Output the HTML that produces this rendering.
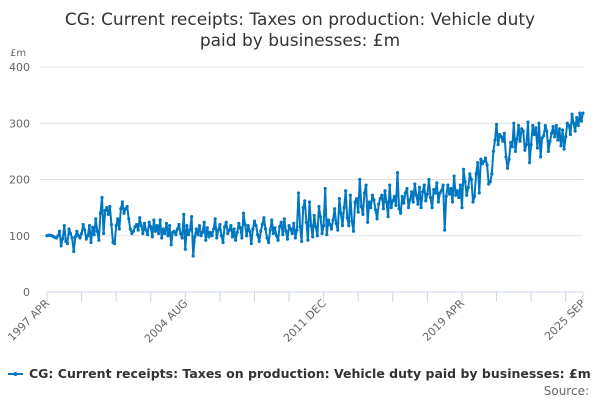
<!DOCTYPE html>
<html><head><meta charset="utf-8"><style>
body{margin:0;width:600px;height:400px;background:#fff;overflow:hidden;font-family:"DejaVu Sans","Liberation Sans",sans-serif}
</style></head><body>
<svg id="chart" width="600" height="400">
<text x="300" y="25" text-anchor="middle" font-size="17" fill="#333"><tspan x="300">CG: Current receipts: Taxes on production: Vehicle duty</tspan><tspan x="300" dy="21">paid by businesses: £m</tspan></text>
<text x="10" y="56" font-size="10" fill="#666">£m</text>
<g id="grid"></g><g id="xaxis"></g><g id="series"></g>
<g>
<line x1="8" y1="374" x2="23" y2="374" stroke="#0077c0" stroke-width="2"/>
<circle cx="15.5" cy="374" r="2" fill="#0077c0"/>
<text x="29" y="378" font-size="12.5" font-weight="bold" fill="#333">CG: Current receipts: Taxes on production: Vehicle duty paid by businesses: £m</text>
</g>
<text x="589" y="395" text-anchor="end" font-size="12" fill="#666">Source:</text>
</svg>
<script>
const yTicks=[0,100,200,300,400];
const xTickLabels=["1997 APR","2004 AUG","2011 DEC","2019 APR","2025 SEP"];
const xTickIdx=[0,88,176,264,341];
const values=[100,101,101,100,99,97,96,100,108,
82,95,118,90,86,112,104,96,72,98,108,100,
96,104,120,110,94,100,118,88,115,102,130,108,
92,140,168,104,145,150,138,152,120,88,86,118,
130,112,148,160,140,148,152,130,112,104,108,116,
120,110,132,118,104,122,110,102,124,116,98,128,
108,118,104,128,96,112,104,122,100,118,84,106,
108,102,112,120,104,96,138,76,118,102,110,134,
64,98,112,102,118,100,106,124,92,114,98,106,
100,112,130,96,110,120,100,88,116,124,104,110,
118,98,112,92,106,122,114,96,140,120,100,118,
108,86,112,126,118,102,90,108,120,132,112,96,
88,110,128,104,114,100,92,116,124,102,130,108,
94,118,112,104,122,96,110,176,116,90,150,162,
124,92,160,118,98,136,116,100,152,134,104,118,
184,102,128,120,112,128,148,122,110,166,140,118,
150,180,132,118,172,126,108,160,166,142,200,152,
138,176,190,124,160,150,172,164,146,130,156,166,
172,148,180,160,134,190,150,162,170,154,212,148,
140,170,158,176,184,150,164,178,160,192,172,156,
186,150,178,190,162,174,200,168,150,182,176,194,
160,176,180,190,110,170,190,174,184,160,206,172,
180,168,190,150,218,196,172,186,210,200,160,170,
210,230,176,236,228,232,238,226,192,196,210,250,
270,298,262,280,276,268,282,240,220,236,266,258,
300,250,272,296,268,290,286,252,262,302,230,262,
296,280,292,256,300,240,274,278,296,286,250,268,
282,294,276,296,270,290,260,288,254,276,300,296,
280,316,300,286,310,296,318,304,318];
const NS="http://www.w3.org/2000/svg";
const x0=47,x1=583,y0=292,yTop=67;
const n=values.length;
function xs(i){return x0+i*(x1-x0)/(n-1);}
function ys(v){return y0-v*(y0-yTop)/400;}
function mk(t,a,p){const e=document.createElementNS(NS,t);for(const k in a)e.setAttribute(k,a[k]);p.appendChild(e);return e;}
const grid=document.getElementById('grid');
yTicks.forEach(v=>{
 if(v>0){const l=mk('line',{x1:40,x2:583,y1:ys(v),y2:ys(v),stroke:'#e0e0e0','stroke-width':1},grid);
 
 }
 const t=mk('text',{x:30,y:ys(v)+4,'text-anchor':'end','font-size':11,fill:'#666'},grid);
 
 
 t.textContent=v;
});
const xa=document.getElementById('xaxis');
const ax=mk('line',{x1:x0,x2:x1,y1:y0,y2:y0,stroke:'#ccd6eb','stroke-width':1},xa);


for(let i=0;i<n;i+=22){
 const tk=mk('line',{x1:xs(i),x2:xs(i),y1:y0,y2:y0+10,stroke:'#ccd6eb'},xa);
 
 
}
const tkEnd=mk('line',{x1:xs(n-1),x2:xs(n-1),y1:y0,y2:y0+10,stroke:'#ccd6eb'},xa);


xTickLabels.forEach((lab,k)=>{
 const x=xs(xTickIdx[k]);
 const t=mk('text',{x:x+3,y:y0+12,'text-anchor':'end','font-size':11,fill:'#666',transform:`rotate(-45 ${x+3} ${y0+12})`},xa);
 
 
 t.textContent=lab;
});
const s=document.getElementById('series');
const path=mk('polyline',{points:values.map((v,i)=>xs(i).toFixed(1)+','+ys(v).toFixed(1)).join(' '),fill:'none',stroke:'#0077c0','stroke-width':2,'stroke-linejoin':'round'},s);


values.forEach((v,i)=>{
 const c=mk('circle',{cx:xs(i),cy:ys(v),r:1.6,fill:'#0077c0'},s);
 
 
});
</script>
</body></html>
